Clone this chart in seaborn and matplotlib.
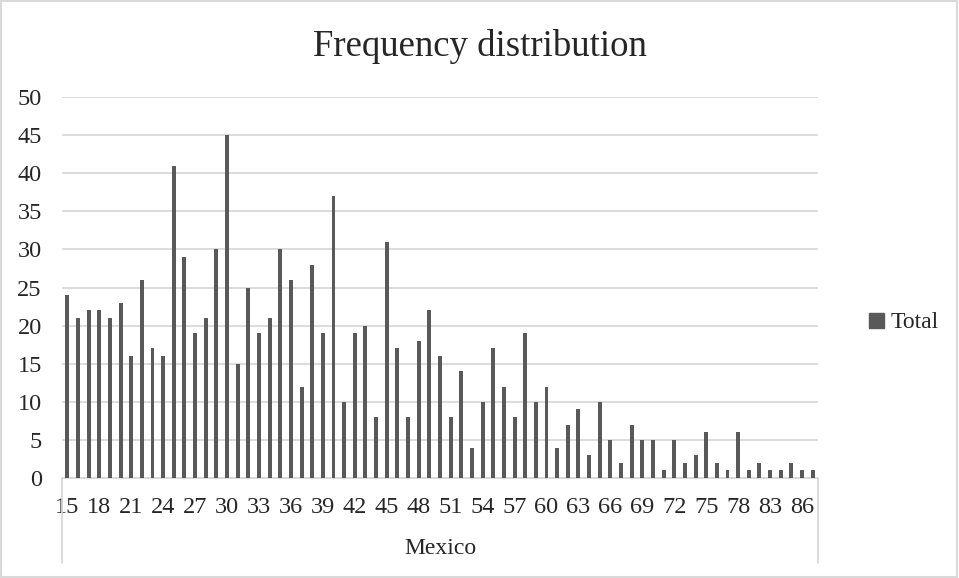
import matplotlib
matplotlib.use("Agg")
import matplotlib.pyplot as plt
import matplotlib.patches as mpatches
import seaborn as sns
import pandas as pd

# ---- data ----
ages = [15, 16, 17, 18, 19, 20, 21, 22, 23, 24, 25, 26, 27, 28, 29, 30,
        31, 32, 33, 34, 35, 36, 37, 38, 39, 40, 41, 42, 43, 44, 45, 46,
        47, 48, 49, 50, 51, 52, 53, 54, 55, 56, 57, 58, 59, 60, 61, 62,
        63, 64, 65, 66, 67, 68, 69, 70, 71, 72, 73, 74, 75, 76, 77, 78,
        80, 81, 83, 84, 85, 86, 87]
counts = [24, 21, 22, 22, 21, 23, 16, 26, 17, 16, 41, 29, 19, 21, 30, 45,
          15, 25, 19, 21, 30, 26, 12, 28, 19, 37, 10, 19, 20, 8, 31, 17,
          8, 18, 22, 16, 8, 14, 4, 10, 17, 12, 8, 19, 10, 12, 4, 7,
          9, 3, 10, 5, 2, 7, 5, 5, 1, 5, 2, 3, 6, 2, 1, 6,
          1, 2, 1, 1, 2, 1, 1]
series_name = "Total"
group_label = "Mexico"
title = "Frequency distribution"
y_ticks = [0, 5, 10, 15, 20, 25, 30, 35, 40, 45, 50]

bar_color = "#595959"
grid_color = "#d9d9d9"

sns.set_style("white")
plt.rcParams['font.family'] = ['Liberation Serif', 'DejaVu Serif']

df = pd.DataFrame({"age": [str(a) for a in ages], "count": counts})

W, H = 959, 578
fig = plt.figure(figsize=(W / 100, H / 100), dpi=100)
L, R, T, B = 62, 818, 97, 478
ax = fig.add_axes([L / W, 1 - B / H, (R - L) / W, (B - T) / H])

sns.barplot(data=df, x="age", y="count", order=df["age"].tolist(),
            color=bar_color, width=0.37, saturation=1, ax=ax, zorder=3,
            linewidth=0)

ax.set_ylim(0, 50)
ax.set_yticks(y_ticks)
ax.set_xlim(-0.5, len(ages) - 0.5)
ax.yaxis.grid(True, color=grid_color, linewidth=1.3, zorder=0)
ax.xaxis.grid(False)
ax.set_axisbelow(True)

# x tick labels every 3rd category
pos = list(range(0, len(ages), 3))
ax.set_xticks(pos)
ax.set_xticklabels([str(ages[i]) for i in pos])
ax.tick_params(axis="x", length=0, pad=14, labelsize=17.5)
ax.tick_params(axis="y", length=0, pad=14.5, labelsize=17.5)
ax.set_xlabel("")
ax.set_ylabel("")

for s in ["left", "right", "top"]:
    ax.spines[s].set_visible(False)
ax.spines["bottom"].set_color(grid_color)
ax.spines["bottom"].set_linewidth(1.3)

# multi-level category box lines
ph = (B - T)
ybot = -(563 - B) / ph
for xa in (0, 1):
    ax.plot([xa, xa], [0, ybot], transform=ax.transAxes, color=grid_color,
            linewidth=1.3, clip_on=False)
ax.text(0.5, -(549 - B) / ph, group_label, transform=ax.transAxes,
        ha="center", va="center", fontsize=17)

# title
fig.text(479.5 / W, 1 - 46 / H, title, ha="center", va="center", fontsize=26.5)

# legend
handle = mpatches.Patch(color=bar_color, label=series_name)
fig.legend(handles=[handle], loc="center left",
           bbox_to_anchor=(860 / W, 1 - 323 / H), frameon=False,
           fontsize=17, handlelength=0.6, handleheight=0.6,
           handletextpad=0.3, borderaxespad=0)

# chart border
fig.patches.append(mpatches.Rectangle((0.001, 0.002), 0.997, 0.996,
                                      transform=fig.transFigure, fill=False,
                                      edgecolor=grid_color, linewidth=1.5))

fig.savefig("out.png", dpi=100)
